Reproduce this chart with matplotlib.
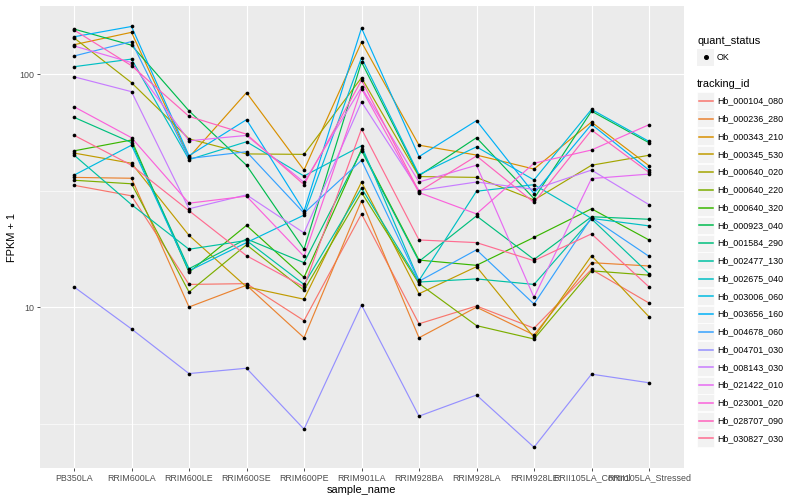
import matplotlib
matplotlib.use("Agg")
import matplotlib.pyplot as plt
from matplotlib.patches import Rectangle
from matplotlib.lines import Line2D
from matplotlib.ticker import FixedLocator, NullFormatter

plt.rcParams['font.family'] = ['Liberation Sans', 'DejaVu Sans']

samples = ["PB350LA", "RRIM600LA", "RRIM600LE", "RRIM600SE", "RRIM600PE",
           "RRIM901LA", "RRIM928BA", "RRIM928LA", "RRIM928LE",
           "RRII105LA_Control", "RRII105LA_Stressed"]

tracking_ids = ["Hb_000104_080", "Hb_000236_280", "Hb_000343_210", "Hb_000345_530",
                "Hb_000640_020", "Hb_000640_220", "Hb_000640_320", "Hb_000923_040",
                "Hb_001584_290", "Hb_002477_130", "Hb_002675_040", "Hb_003006_060",
                "Hb_003656_160", "Hb_004678_060", "Hb_004701_030", "Hb_008143_030",
                "Hb_021422_010", "Hb_023001_020", "Hb_028707_090", "Hb_030827_030"]

colors = ["#F8766D", "#EA8331", "#D89000", "#C09B00", "#A3A500", "#7CAE00", "#39B600",
          "#00BB4E", "#00BF7D", "#00C1A3", "#00BFC4", "#00BAE0", "#00B0F6", "#35A2FF",
          "#9590FF", "#C77CFF", "#E76BF3", "#FA62DB", "#FF62BC", "#FF6C91"]

# FPKM + 1 per sample (order of `samples`)
hb_000104_080 = [33.3, 30.0, 12.5, 12.6, 8.74, 25.1, 8.47, 10.1, 8.11, 14.5, 10.4]
hb_000236_280 = [36.0, 35.7, 10.0, 12.4, 7.38, 28.6, 7.38, 9.98, 7.59, 15.5, 15.0]
hb_000343_210 = [133.6, 151.0, 43.9, 83.2, 38.7, 137.0, 49.5, 44.9, 39.1, 62.2, 40.4]
hb_000345_530 = [45.8, 41.4, 20.3, 12.2, 10.8, 34.4, 11.4, 14.9, 7.41, 16.6, 9.08]
hb_000640_020 = [143.0, 91.8, 52.7, 45.4, 45.2, 96.4, 36.3, 36.0, 28.8, 40.6, 44.8]
hb_000640_220 = [35.0, 33.8, 11.6, 18.5, 11.8, 31.0, 12.6, 8.32, 7.29, 14.3, 13.7]
hb_000640_320 = [46.8, 52.1, 14.1, 22.4, 13.4, 47.5, 15.9, 15.1, 19.9, 26.4, 19.4]
hb_000923_040 = [156.0, 133.0, 69.5, 40.6, 17.7, 112.6, 36.6, 53.3, 29.2, 69.3, 50.7]
hb_001584_290 = [65.2, 50.8, 14.6, 19.6, 15.5, 46.9, 15.7, 24.6, 16.0, 24.4, 23.8]
hb_002477_130 = [44.9, 27.5, 17.7, 19.3, 12.5, 32.4, 12.8, 13.2, 12.5, 23.9, 13.9]
hb_002675_040 = [107.5, 115.9, 42.9, 51.2, 36.5, 49.2, 13.0, 31.4, 33.5, 24.0, 22.3]
hb_003006_060 = [36.8, 49.5, 14.3, 18.9, 24.8, 117.5, 37.0, 48.7, 35.1, 70.5, 51.4]
hb_003656_160 = [144.5, 160.0, 44.6, 63.7, 25.8, 157.5, 44.2, 63.1, 30.7, 60.8, 38.7]
hb_004678_060 = [119.5, 137.8, 43.4, 46.4, 25.3, 42.6, 12.9, 17.6, 10.3, 24.2, 16.5]
hb_004701_030 = [12.2, 8.05, 5.18, 5.46, 2.99, 10.2, 3.40, 4.19, 2.50, 5.15, 4.73]
hb_008143_030 = [97.3, 84.0, 26.4, 30.3, 20.8, 75.9, 31.6, 34.4, 32.0, 38.7, 27.5]
hb_021422_010 = [132.0, 112.0, 51.7, 54.5, 34.3, 87.7, 34.4, 40.6, 11.0, 35.6, 37.2]
hb_023001_020 = [72.4, 53.3, 27.9, 29.9, 16.5, 86.5, 31.0, 25.1, 41.4, 47.2, 60.6]
hb_028707_090 = [154.5, 108.6, 65.8, 55.2, 33.5, 94.0, 31.3, 44.5, 28.1, 57.5, 37.8]
hb_030827_030 = [54.6, 40.6, 25.9, 16.6, 12.2, 58.1, 19.4, 18.9, 15.8, 20.6, 12.2]

series = [hb_000104_080, hb_000236_280, hb_000343_210, hb_000345_530, hb_000640_020,
          hb_000640_220, hb_000640_320, hb_000923_040, hb_001584_290, hb_002477_130,
          hb_002675_040, hb_003006_060, hb_003656_160, hb_004678_060, hb_004701_030,
          hb_008143_030, hb_021422_010, hb_023001_020, hb_028707_090, hb_030827_030]

W, H = 800, 500
fig = plt.figure(figsize=(8, 5), dpi=100)
fig.patch.set_facecolor("white")

# panel in pixel coords: x 39.5..683.5, y 6..468
ax = fig.add_axes([39.5 / W, 1 - 468 / H, 644 / W, 462 / H])
ax.set_facecolor("#EBEBEB")
for s in ax.spines.values():
    s.set_visible(False)

xpos = list(range(len(samples)))
ax.set_yscale("log")
ax.set_xlim(-0.6, len(samples) - 1 + 0.6)
ax.set_ylim(10 ** 0.309, 10 ** 2.292)

# grid
ax.yaxis.set_major_locator(FixedLocator([10, 100]))
ax.yaxis.set_minor_locator(FixedLocator([10 ** 0.5, 10 ** 1.5]))
ax.yaxis.set_minor_formatter(NullFormatter())
ax.set_yticklabels(["10", "100"])
ax.set_xticks(xpos)
ax.set_xticklabels(samples)
ax.grid(which="major", color="white", linewidth=0.85)
ax.grid(which="minor", axis="y", color="white", linewidth=0.45)
ax.set_axisbelow(True)
ax.tick_params(axis="both", which="major", length=2.5, width=0.6, color="#333333",
               labelsize=6.4, labelcolor="#4D4D4D", pad=1.5)
ax.tick_params(axis="y", which="minor", length=0)

for vals, col in zip(series, colors):
    ax.plot(xpos, vals, color=col, linewidth=0.85, zorder=2, solid_capstyle="butt")
for vals in series:
    ax.scatter(xpos, vals, s=7, color="black", zorder=3, linewidths=0)

ax.set_xlabel("sample_name", fontsize=7.9, color="black", labelpad=2)
ax.set_ylabel("FPKM + 1", fontsize=7.9, color="black", va="center")
ax.yaxis.set_label_coords((12 - 39.5) / 644, 0.5)

# legends (pixel coordinates)
def fx(x):
    return x / W

def fy(y):
    return 1 - y / H

kx0, kw = 697, 17
fig.text(fx(kx0), fy(40.7), "quant_status", fontsize=7.9, va="center", ha="left")
fig.add_artist(Rectangle((fx(kx0), fy(57.3 + kw / 2)), kw / W, kw / H,
                         facecolor="#F2F2F2", edgecolor="none", transform=fig.transFigure))
fig.add_artist(Line2D([fx(kx0 + kw / 2)], [fy(57.3)], marker="o", markersize=2.6,
                      color="black", linestyle="none", transform=fig.transFigure))
fig.text(fx(717), fy(57.3), "OK", fontsize=6.4, va="center", ha="left")

fig.text(fx(kx0), fy(84.3), "tracking_id", fontsize=7.9, va="center", ha="left")
step = (438.3 - 101.0) / (len(tracking_ids) - 1)
for i, (tid, col) in enumerate(zip(tracking_ids, colors)):
    yc = 101.0 + i * step
    fig.add_artist(Rectangle((fx(kx0), fy(yc + kw / 2)), kw / W, kw / H,
                             facecolor="#F2F2F2", edgecolor="white", linewidth=0.5,
                             transform=fig.transFigure, zorder=1))
    fig.add_artist(Line2D([fx(kx0 + 1.5), fx(kx0 + kw - 1.5)], [fy(yc), fy(yc)],
                          color=col, linewidth=1.1, transform=fig.transFigure, zorder=2))
    fig.text(fx(717), fy(yc), tid, fontsize=6.4, va="center", ha="left")

fig.savefig("out.png", dpi=100)
